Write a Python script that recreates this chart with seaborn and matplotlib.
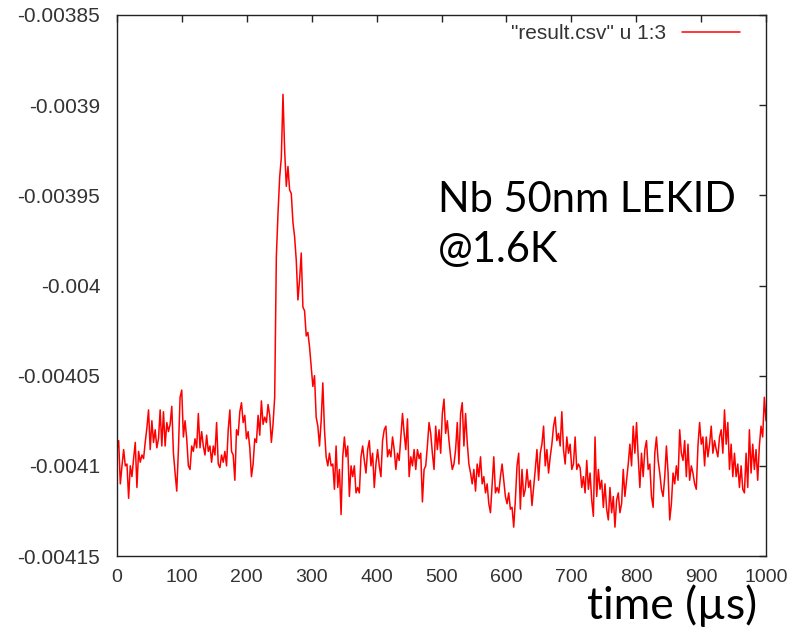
import numpy as np
import matplotlib
matplotlib.use("Agg")
import matplotlib.pyplot as plt
import seaborn as sns

# valores (unidade: 1e-6)
pre_pulso = [
    -4091, -4086, -4110, -4100, -4091, -4100, -4099, -4118, -4100, -4106,
    -4096, -4087, -4112, -4092, -4098, -4094, -4096, -4087, -4079, -4069,
    -4091, -4075, -4087, -4080, -4090, -4085, -4069, -4089, -4070, -4089,
    -4076, -4081, -4077, -4067, -4093, -4104, -4114, -4091, -4062, -4058,
    -4084, -4075, -4085, -4100, -4102, -4089, -4092, -4085, -4090, -4071,
    -4090, -4081, -4089, -4094, -4083, -4092, -4089, -4098, -4089, -4094,
    -4076, -4099, -4101, -4094, -4098, -4092, -4100, -4080, -4069, -4092,
    -4094, -4108, -4080, -4083, -4070, -4065, -4076, -4072, -4085, -4081,
    -4090, -4106, -4099, -4085, -4087, -4072, -4083, -4064, -4077, -4073,
    -4076, -4066, -4072, -4087, -4077,
]
pulso = [
    -4062, -3984, -3960, -3940, -3929, -3894, -3925, -3945, -3934, -3947,
    -3949, -3965, -3973, -3986, -4008, -3997, -3982, -4012, -4014, -4028,
    -4026, -4034, -4045, -4056, -4050, -4073, -4078, -4089, -4075, -4054,
    -4080, -4095, -4100,
]
pos_pulso_1 = [
    -4093, -4100, -4099, -4113, -4089, -4112, -4102, -4127, -4095, -4084,
    -4095, -4089, -4117, -4100, -4106, -4100, -4115, -4112, -4115, -4095,
    -4089, -4097, -4104, -4091, -4086, -4100, -4093, -4112, -4099, -4091,
    -4100, -4106, -4086, -4080, -4078, -4095, -4091, -4095, -4084, -4091,
    -4102, -4093, -4097, -4084, -4071, -4082, -4091, -4074, -4106, -4095,
    -4100, -4091, -4102, -4091, -4096, -4093, -4120, -4102, -4100, -4089,
    -4076, -4082, -4093, -4102, -4078, -4091, -4080, -4093, -4071, -4063,
    -4082, -4075, -4086, -4095, -4102, -4099, -4091, -4076, -4099, -4071,
    -4065, -4089, -4071, -4087, -4099, -4104, -4110, -4102, -4114, -4099,
    -4106, -4095, -4110, -4106, -4115, -4110, -4121, -4126, -4110, -4095,
    -4115, -4112, -4115, -4106, -4099, -4108, -4117, -4121, -4115, -4124,
    -4123, -4134, -4119, -4100, -4093, -4124, -4102, -4117, -4113, -4102,
    -4112, -4108, -4122, -4112, -4102, -4091, -4108, -4093, -4088, -4078,
    -4100, -4091, -4104, -4095,
]
pos_pulso_2 = [
    -4088, -4078, -4073, -4086, -4082, -4089, -4070, -4091, -4099, -4084,
    -4093, -4088, -4102, -4099, -4084, -4102, -4099, -4101, -4112, -4106,
    -4115, -4097, -4113, -4104, -4119, -4128, -4084, -4117, -4102, -4113,
    -4108, -4123, -4110, -4124, -4130, -4112, -4126, -4117, -4134, -4119,
    -4115, -4126, -4121, -4102, -4117, -4108, -4099, -4088, -4100, -4078,
    -4093, -4076, -4095, -4112, -4093, -4106, -4091, -4086, -4102, -4099,
    -4117, -4123, -4093, -4084, -4097, -4104, -4113, -4117, -4106, -4089,
    -4104, -4130, -4121, -4104, -4110, -4100, -4108, -4080, -4093, -4097,
    -4086, -4106, -4088, -4108, -4100, -4104, -4110, -4113, -4089, -4076,
    -4088, -4084, -4100, -4084, -4095, -4088, -4078, -4093, -4086, -4091,
    -4095, -4084, -4080, -4093, -4069, -4088, -4076, -4102, -4088, -4106,
    -4093, -4106, -4099, -4112, -4100, -4113, -4115, -4093, -4112, -4080,
    -4104, -4088, -4102, -4091, -4108, -4089, -4078, -4084, -4062, -4075,
]

x_ticks = [0, 100, 200, 300, 400, 500, 600, 700, 800, 900, 1000]
y_ticks = [-0.00415, -0.0041, -0.00405, -0.004, -0.00395, -0.0039, -0.00385]
y_labels = ["-0.00415", "-0.0041", "-0.00405", "-0.004", "-0.00395", "-0.0039", "-0.00385"]

sinal = np.array(pre_pulso + pulso + pos_pulso_1 + pos_pulso_2) * 1e-6
tempo = np.linspace(0, 1000, len(sinal))  # amostragem uniforme

sns.set_style("white")
plt.rcParams["font.family"] = ["Liberation Sans", "DejaVu Sans"]

W, H = 805, 632
fig = plt.figure(figsize=(W / 100, H / 100), dpi=100)
ax = fig.add_axes([117 / W, 1 - 556 / H, (766 - 117) / W, (556 - 15) / H])

sns.lineplot(x=tempo, y=sinal, ax=ax, color="red", linewidth=1.1,
             sort=False, estimator=None, label='"result.csv" u 1:3')

ax.set_xlim(0, 1000)
ax.set_ylim(-0.00415, -0.00385)
ax.set_xticks(x_ticks, [str(t) for t in x_ticks])
ax.set_yticks(y_ticks, y_labels)
ax.set_xlabel("")
ax.set_ylabel("")
ax.tick_params(direction="in", top=True, right=True, length=5, width=1,
               color="#222222", labelcolor="#333333")
ax.tick_params(axis="y", pad=12, labelsize=15)
ax.tick_params(axis="x", pad=9, labelsize=14)
for s in ax.spines.values():
    s.set_color("#222222")
    s.set_linewidth(1)

leg = ax.legend(loc="upper right", bbox_to_anchor=(0.96, 0.983), frameon=False,
                markerfirst=False, handlelength=2.8, handletextpad=0.75,
                borderaxespad=0, borderpad=0, fontsize=15)
for t in leg.get_texts():
    t.set_color("#333333")

# anotações grandes
fonte = ["Lato", "DejaVu Sans"]
fig.text(438 / W, 1 - 212 / H, "Nb 50nm LEKID", fontsize=30, color="black",
         family=fonte, va="baseline", ha="left")
fig.text(438 / W, 1 - 262 / H, "@1.6K", fontsize=30, color="black",
         family=fonte, va="baseline", ha="left")
fig.text(757 / W, 1 - 619 / H, "time (\u00b5s)", fontsize=32, color="black",
         family=fonte, va="baseline", ha="right")

fig.savefig("out.png", dpi=100)
